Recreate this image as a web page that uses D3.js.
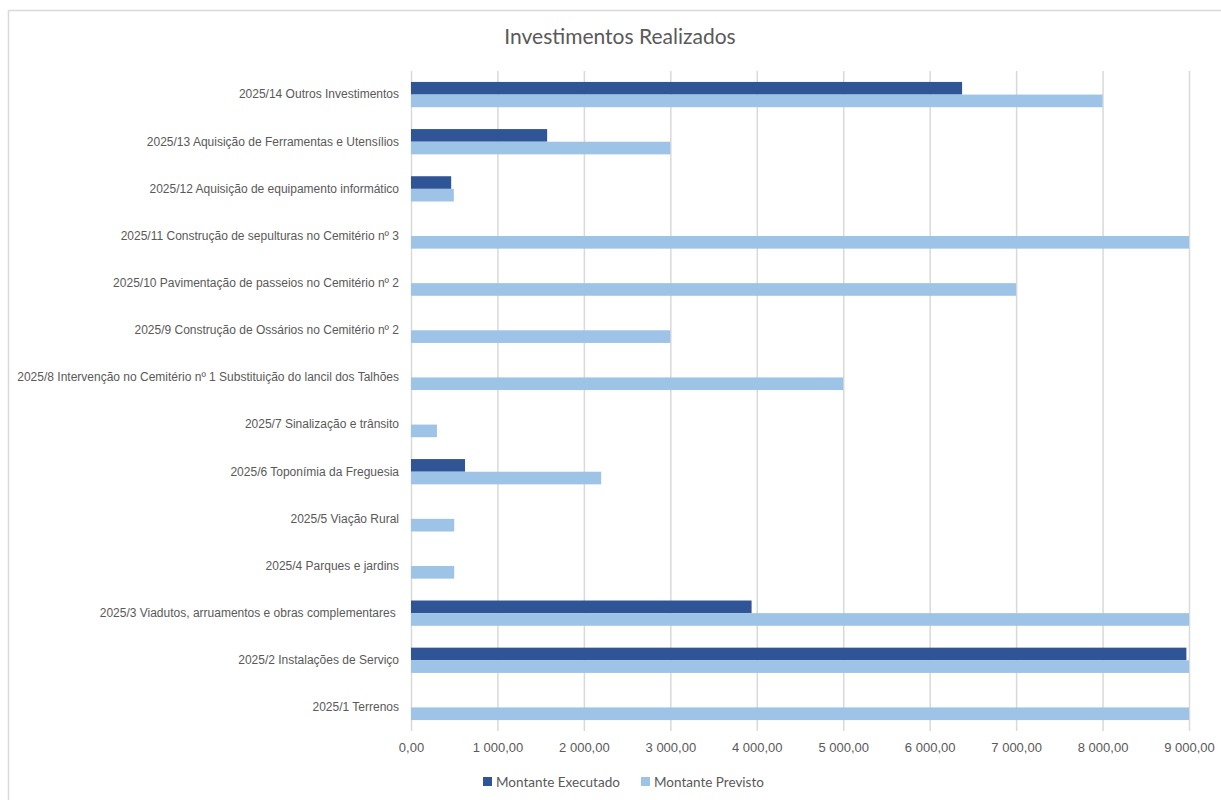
<!DOCTYPE html>
<html>
<head>
<meta charset="utf-8">
<script src="https://cdn.jsdelivr.net/npm/d3@7"></script>
<style>
  body { margin: 0; background: #fff; }
  svg { font-family: Lato, 'Open Sans', sans-serif; }
  .grid line { stroke: #d9d9d9; stroke-width: 1.5; }
  .grid .domain { display: none; }
  .cat-axis text { fill: #595959; font-size: 12px; white-space: pre; }
  .val-axis text { fill: #595959; font-size: 13px; }
</style>
</head>
<body>
<svg id="chart" width="1221" height="800"></svg>
<script>
// categorias (de baixo para cima, como no Excel)
const categories = [
  '2025/1 Terrenos',
  '2025/2 Instalações de Serviço',
  '2025/3 Viadutos, arruamentos e obras complementares ',
  '2025/4 Parques e jardins',
  '2025/5 Viação Rural',
  '2025/6 Toponímia da Freguesia',
  '2025/7 Sinalização e trânsito',
  '2025/8 Intervenção no Cemitério nº 1 Substituição do lancil dos Talhões',
  '2025/9 Construção de Ossários no Cemitério nº 2',
  '2025/10 Pavimentação de passeios no Cemitério nº 2',
  '2025/11 Construção de sepulturas no Cemitério nº 3',
  '2025/12 Aquisição de equipamento informático',
  '2025/13 Aquisição de Ferramentas e Utensílios',
  '2025/14 Outros Investimentos'
];

const executado = [0, 8970, 3940, 0, 0, 625, 0, 0, 0, 0, 0, 465, 1575, 6375];
const previsto = [9000, 9000, 9000, 500, 500, 2200, 300, 5000, 3000, 7000, 9000, 495, 3000, 8000];

const series = ['Montante Executado', 'Montante Previsto'];
const colors = ['#2f5597', '#9dc3e6'];
const xTicks = [0, 1000, 2000, 3000, 4000, 5000, 6000, 7000, 8000, 9000];

const svg = d3.select('#chart');
const margin = { top: 71, left: 411, right: 32, bottom: 69 };
const width = 1221 - margin.left - margin.right;
const height = 800 - margin.top - margin.bottom;

const locale = d3.formatLocale({ decimal: ',', thousands: ' ', grouping: [3], currency: ['', '€'] });
const fmt = locale.format(',.2f');

// moldura do gráfico
svg.append('path')
  .attr('d', 'M8.5,800 V10.5 H1221')
  .attr('fill', 'none')
  .attr('stroke', '#d9d9d9')
  .attr('stroke-width', 1.5);

svg.append('text')
  .attr('x', 620)
  .attr('y', 44)
  .attr('text-anchor', 'middle')
  .attr('fill', '#595959')
  .style('font-size', '21px')
  .text('Investimentos Realizados');

const chart = svg.append('g').attr('transform', `translate(${margin.left}, ${margin.top})`);

const xScale = d3.scaleLinear().domain([0, 9000]).range([0, width]);
const yScale = d3.scaleBand()
  .domain(categories.slice().reverse())
  .range([0, height])
  .paddingInner(0.464)
  .paddingOuter(0.232);
const ySub = d3.scaleBand().domain(series).range([0, yScale.bandwidth()]);

// grelha vertical
chart.append('g')
  .attr('class', 'grid')
  .call(d3.axisBottom(xScale).tickValues(xTicks).tickSize(height).tickFormat(''));

// eixo de valores
chart.append('g')
  .attr('class', 'val-axis')
  .attr('transform', `translate(0, ${height})`)
  .call(d3.axisBottom(xScale).tickValues(xTicks).tickSize(0).tickPadding(12).tickFormat(fmt))
  .call(g => g.select('.domain').remove());

// eixo de categorias
chart.append('g')
  .attr('class', 'cat-axis')
  .call(d3.axisLeft(yScale).tickSize(0).tickPadding(12))
  .call(g => g.select('.domain').remove());

const rows = categories.map((c, i) => ({ cat: c, values: [executado[i], previsto[i]] }));

const barGroups = chart.selectAll('.row').data(rows).enter().append('g')
  .attr('class', 'row')
  .attr('transform', d => `translate(0, ${yScale(d.cat)})`);

barGroups.selectAll('rect')
  .data(d => d.values.map((v, j) => ({ key: series[j], value: v, color: colors[j] })))
  .enter().append('rect')
  .attr('x', xScale(0))
  .attr('y', d => ySub(d.key))
  .attr('width', d => xScale(d.value) - xScale(0))
  .attr('height', ySub.bandwidth())
  .attr('fill', d => d.color);

// legenda
const legend = svg.append('g').attr('transform', 'translate(483, 782)');
const legendX = [0, 158];
series.forEach((s, i) => {
  const item = legend.append('g').attr('transform', `translate(${legendX[i]}, 0)`);
  item.append('rect')
    .attr('x', 0).attr('y', -5)
    .attr('width', 9).attr('height', 9)
    .attr('fill', colors[i]);
  item.append('text')
    .attr('x', 13).attr('y', 0)
    .attr('dy', '0.35em')
    .attr('fill', '#595959')
    .style('font-size', '13.5px')
    .text(s);
});
</script>
</body>
</html>
